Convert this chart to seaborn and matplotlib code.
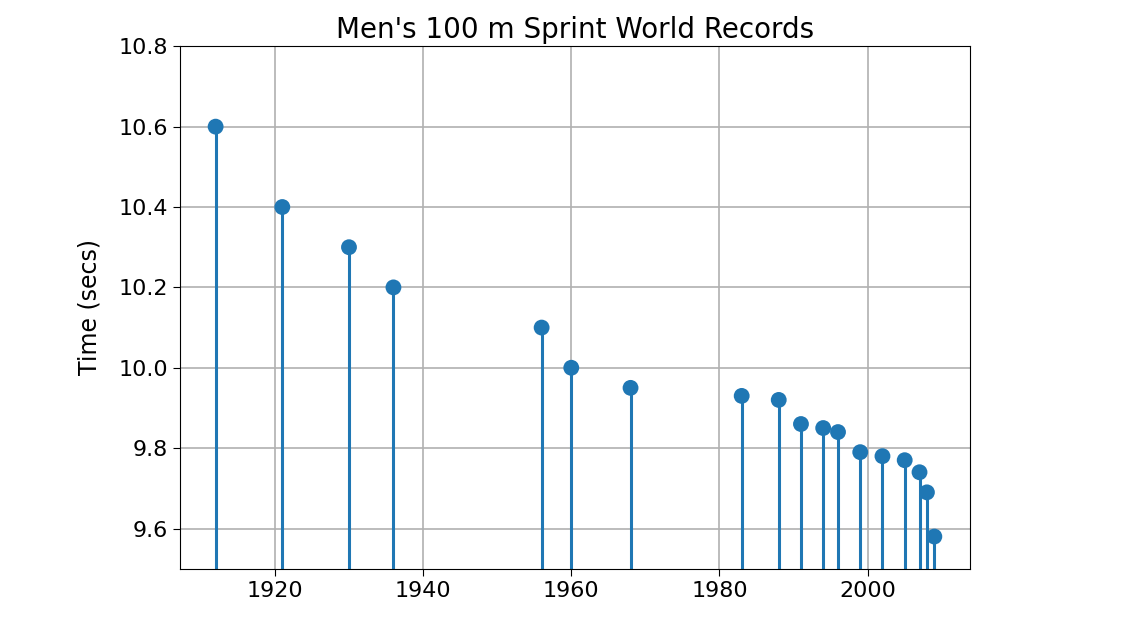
import matplotlib
matplotlib.use("Agg")
import matplotlib.pyplot as plt
import seaborn as sns

years = [1912, 1921, 1930, 1936, 1956, 1960, 1968, 1983, 1988, 1991,
         1994, 1996, 1999, 2002, 2005, 2007, 2008, 2009]
times = [10.6, 10.4, 10.3, 10.2, 10.1, 10.0, 9.95, 9.93, 9.92, 9.86,
         9.85, 9.84, 9.79, 9.78, 9.77, 9.74, 9.69, 9.58]

plt.rcParams["font.family"] = "DejaVu Sans"
fig = plt.figure(figsize=(11.23, 6.34), dpi=100)
ax = fig.add_axes([0.16, 0.103, 0.704, 0.824])
ax.set_axisbelow(True)
ax.grid(True, color="#b0b0b0", linewidth=1.2)
ax.vlines(years, 0, times, color="#1f77b4", linewidth=2.2, zorder=2)
sns.scatterplot(x=years, y=times, ax=ax, color="#1f77b4", s=130,
                edgecolor="none", zorder=3)
ax.set_ylim(9.5, 10.8)
ax.set_xlim(1907.15, 2013.85)
ax.set_xticks([1920, 1940, 1960, 1980, 2000])
ax.set_yticks([9.6, 9.8, 10.0, 10.2, 10.4, 10.6, 10.8])
ax.tick_params(labelsize=16, length=5)
ax.set_ylabel("Time (secs)", fontsize=17, labelpad=12)
ax.set_title("Men's 100 m Sprint World Records", fontsize=20)
fig.savefig("out.png", dpi=100)
